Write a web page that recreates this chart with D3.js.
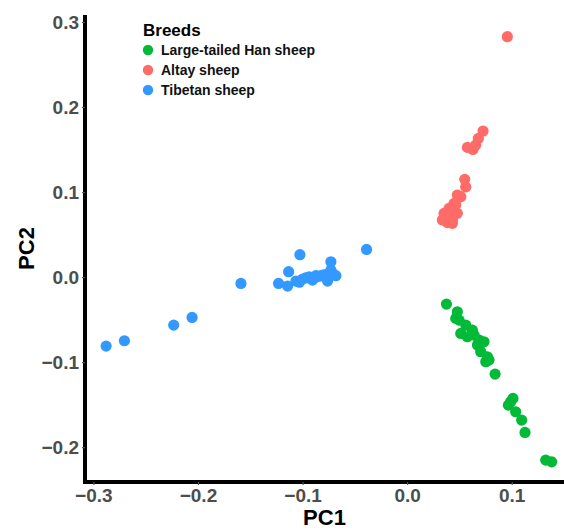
<!DOCTYPE html>
<html>
<head>
<meta charset="UTF-8">
<title>PCA</title>
<style>
  body { margin: 0; background: #fff; }
  text { font-family: "Liberation Sans", Arial, sans-serif; }
</style>
</head>
<body>
<div id="chart"></div>
<script src="https://d3js.org/d3.v7.min.js"></script>
<script>
// breeds, in legend order
var breeds = ["Large-tailed Han sheep", "Altay sheep", "Tibetan sheep"];
var colors = ["#00ba38", "#ff6b67", "#3399ff"];

// Large-tailed Han sheep
var hanPC1 = [0.0376, 0.048, 0.0465, 0.0497, 0.0561, 0.0513, 0.0576, 0.0624, 0.064, 0.0688, 0.0735, 0.0672,
              0.0704, 0.0767, 0.0752, 0.0783, 0.0841, 0.1012, 0.099, 0.0968, 0.1038, 0.1095, 0.1127, 0.1325, 0.1382];
var hanPC2 = [-0.0318, -0.0408, -0.0486, -0.0506, -0.0565, -0.0663, -0.0702, -0.0624, -0.0682, -0.0741, -0.0761, -0.08,
              -0.0878, -0.0937, -0.0996, -0.0976, -0.1141, -0.1427, -0.1467, -0.1506, -0.1584, -0.1682, -0.1827, -0.2153, -0.2173];

// Altay sheep
var altayPC1 = [0.0958, 0.0726, 0.0681, 0.0656, 0.0576, 0.063, 0.0551, 0.056, 0.048, 0.0513, 0.0449, 0.048,
                0.0417, 0.0433, 0.0369, 0.0401, 0.0353, 0.0337, 0.0433, 0.0417, 0.0385, 0.0465];
var altayPC2 = [0.2827, 0.1718, 0.1631, 0.1553, 0.1525, 0.150, 0.1149, 0.106, 0.0965, 0.0945, 0.0867, 0.075,
                0.0788, 0.0632, 0.0709, 0.0808, 0.0749, 0.0671, 0.0671, 0.0700, 0.0640, 0.0850];

// Tibetan sheep
var tibPC1 = [-0.2878, -0.2703, -0.2232, -0.2056, -0.1589, -0.0388, -0.1025, -0.1133, -0.1229, -0.1143,
              -0.1063, -0.1, -0.0936, -0.0905, -0.0872, -0.0840, -0.0809, -0.0761, -0.0729, -0.0729, -0.0681,
              -0.0710, -0.0970, -0.0880, -0.0780, -0.1030];
var tibPC2 = [-0.0812, -0.0749, -0.0565, -0.0475, -0.0075, 0.0325, 0.0263, 0.0063, -0.0075, -0.0106,
              -0.0047, -0.0024, 0.0004, -0.0035, 0.0016, 0.0010, 0.0024, -0.0047, 0.018, 0.0082, 0.0016,
              0.0040, -0.0010, -0.0005, 0.0030, -0.0060];

var xTicks = [-0.3, -0.2, -0.1, 0.0, 0.1];
var yTicks = [-0.2, -0.1, 0.0, 0.1, 0.2, 0.3];

var width = 564, height = 531;
var margin = { top: 15, right: 0, bottom: 49, left: 85 };

var groups = [
  { name: breeds[0], color: colors[0], xs: hanPC1, ys: hanPC2 },
  { name: breeds[1], color: colors[1], xs: altayPC1, ys: altayPC2 },
  { name: breeds[2], color: colors[2], xs: tibPC1, ys: tibPC2 }
];

var svg = d3.select("#chart").append("svg")
  .attr("width", width)
  .attr("height", height);

var x = d3.scaleLinear().domain([-0.308, 0.150]).range([margin.left, width - margin.right]);
var y = d3.scaleLinear().domain([-0.241, 0.3082]).range([height - margin.bottom, margin.top]);

// points, drawn from the back (Tibetan) to front (Han)
groups.slice().reverse().forEach(function(g) {
  svg.append("g").selectAll("circle")
    .data(d3.range(g.xs.length))
    .join("circle")
    .attr("cx", function(i) { return x(g.xs[i]); })
    .attr("cy", function(i) { return y(g.ys[i]); })
    .attr("r", 5.6)
    .attr("fill", g.color);
});

// axes
var xAxis = svg.append("g")
  .attr("transform", "translate(0," + (height - margin.bottom) + ")")
  .call(d3.axisBottom(x).tickValues(xTicks).tickFormat(d3.format(".1f")).tickSize(3).tickPadding(4));
var yAxis = svg.append("g")
  .attr("transform", "translate(" + margin.left + ",0)")
  .call(d3.axisLeft(y).tickValues(yTicks).tickFormat(d3.format(".1f")).tickSize(3).tickPadding(3));

[xAxis, yAxis].forEach(function(a) {
  a.select(".domain").attr("stroke", "#000").attr("stroke-width", 4);
  a.selectAll(".tick line").attr("stroke", "#555").attr("stroke-width", 1.2);
  a.selectAll(".tick text")
    .attr("fill", "#4d4d4d")
    .style("font-size", "19px")
    .style("font-weight", "bold");
});
xAxis.select(".domain").attr("d", "M" + (margin.left - 2) + ",0H" + width);
yAxis.select(".domain").attr("d", "M0," + margin.top + "V" + (height - margin.bottom + 2));

// axis titles
svg.append("text")
  .attr("x", (margin.left + width) / 2)
  .attr("y", 525)
  .attr("text-anchor", "middle")
  .style("font-size", "22px")
  .style("font-weight", "bold")
  .text("PC1");

svg.append("text")
  .attr("transform", "translate(34," + ((margin.top + height - margin.bottom) / 2) + ") rotate(-90)")
  .attr("text-anchor", "middle")
  .style("font-size", "22px")
  .style("font-weight", "bold")
  .text("PC2");

// legend
var legend = svg.append("g").attr("transform", "translate(143,0)");
legend.append("text")
  .attr("x", 0)
  .attr("y", 36)
  .style("font-size", "17px")
  .style("font-weight", "bold")
  .text("Breeds");

var item = legend.selectAll(".item")
  .data(groups)
  .join("g")
  .attr("class", "item")
  .attr("transform", function(d, i) { return "translate(0," + (50 + i * 20) + ")"; });
item.append("circle")
  .attr("cx", 5)
  .attr("cy", 0)
  .attr("r", 5.2)
  .attr("fill", function(d) { return d.color; });
item.append("text")
  .attr("x", 18)
  .attr("y", 5)
  .style("font-size", "14px")
  .style("font-weight", "bold")
  .attr("fill", "#111")
  .text(function(d) { return d.name; });
</script>
</body>
</html>
